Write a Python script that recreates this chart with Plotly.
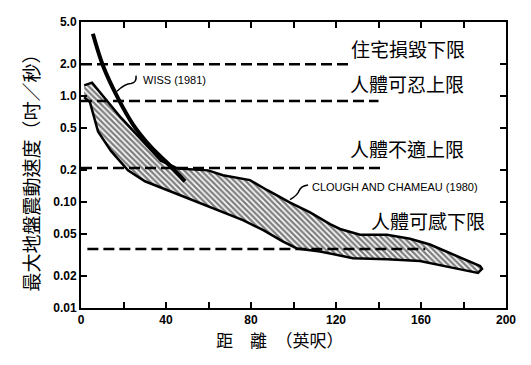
import plotly.graph_objects as go

# ---- data ----
band_upper_x = [1.5, 5.2, 18.8, 30.1, 37.6, 45.6, 59.8, 66.8, 79.5, 87.5, 98.4, 107.8, 117.2, 121.9, 131.3, 144.0, 154.8, 164.2, 175.1, 187.8, 188.7]
band_upper_y = [1.26, 1.34, 0.625, 0.352, 0.246, 0.207, 0.199, 0.179, 0.161, 0.130, 0.0987, 0.0799, 0.0619, 0.0557, 0.0491, 0.0491, 0.0450, 0.0397, 0.0321, 0.0249, 0.0234]
band_lower_x = [1.5, 4.2, 8.0, 14.1, 22.1, 30.1, 39.5, 51.3, 66.8, 76.2, 85.6, 95.1, 101.6, 112.5, 128.0, 144.0, 159.5, 175.1, 186.8]
band_lower_y = [0.975, 0.877, 0.464, 0.304, 0.199, 0.157, 0.130, 0.105, 0.080, 0.0674, 0.0545, 0.0423, 0.0365, 0.0342, 0.0295, 0.0289, 0.0277, 0.0239, 0.0214]

wiss_x = [5.6, 10.4, 17.4, 24.5, 32.9, 40.9, 48.9]
wiss_y = [3.87, 1.92, 0.955, 0.538, 0.331, 0.231, 0.157]

limit_levels = [2.0, 0.9, 0.21, 0.036]
limit_x_start = [0, 0, 0, 3]
limit_x_end = [126, 140, 141, 162]
limit_labels = ["住宅損毀下限", "人體可忍上限", "人體不適上限", "人體可感下限"]

x_ticks = [0, 20, 40, 60, 80, 100, 120, 140, 160, 180, 200]
x_ticktext = ["0", "", "40", "", "80", "", "120", "", "160", "", "200"]
y_ticks = [0.01, 0.02, 0.05, 0.1, 0.2, 0.5, 1.0, 2.0, 5.0]
y_ticktext = ["0.01", "0.02", "0.05", "0.10", "0.2", "0.5", "1.0", "2.0", "5.0"]

# ---- layout helpers (window pixel -> paper); page body has an 8px margin ----
OFF = 8
W, H = 531 - OFF, 365 - OFF
L, R, T, B = 81, 506, 15, 308  # plot area in window pixels
def px(x):
    return (x - L) / (R - L)
def py(y):
    return (B - y) / (B - T)

fig = go.Figure()

# hatched band (Clough and Chameau)
fig.add_trace(go.Scatter(
    x=band_upper_x + band_lower_x[::-1],
    y=band_upper_y + band_lower_y[::-1],
    mode="lines", fill="toself",
    line=dict(color="black", width=2.5),
    fillcolor="white",
    fillpattern=dict(shape="\\", fgcolor="black", bgcolor="white", size=4, solidity=0.6),
    showlegend=False, hoverinfo="skip"))

# dashed limit lines
for lv, xs, xe in zip(limit_levels, limit_x_start, limit_x_end):
    fig.add_trace(go.Scatter(
        x=[xs, xe], y=[lv, lv], mode="lines",
        line=dict(color="black", width=2.5, dash="11px,5px"),
        showlegend=False, hoverinfo="skip"))

# Wiss line
fig.add_trace(go.Scatter(
    x=wiss_x, y=wiss_y, mode="lines",
    line=dict(color="black", width=4, shape="spline"),
    showlegend=False, hoverinfo="skip"))

ann = []
label_pos = [(408, 42), (407, 78), (407, 145), (428, 218)]
for txt, (lx, ly) in zip(limit_labels, label_pos):
    ann.append(dict(x=px(lx), y=py(ly), xref="paper", yref="paper", text=txt,
                    showarrow=False, xanchor="center", yanchor="middle",
                    font=dict(family="Noto Sans CJK TC", size=19, color="black")))
ann.append(dict(x=px(141), y=py(74), xref="paper", yref="paper", text="WISS (1981)",
                showarrow=False, xanchor="left", yanchor="middle",
                font=dict(family="Liberation Sans", size=11, color="black")))
ann.append(dict(x=px(310), y=py(184), xref="paper", yref="paper", text="CLOUGH AND CHAMEAU (1980)",
                showarrow=False, xanchor="left", yanchor="middle",
                font=dict(family="Liberation Sans", size=11, color="black")))
# axis titles
ann.append(dict(x=px(30), y=py(165), xref="paper", yref="paper", text="最大地盤震動速度（吋／秒）",
                showarrow=False, textangle=-90, xanchor="center", yanchor="middle",
                font=dict(family="Noto Sans CJK TC", size=19, color="black")))
ann.append(dict(x=px(280), y=py(340), xref="paper", yref="paper", text="距　離　（英呎）",
                showarrow=False, xanchor="center", yanchor="middle",
                font=dict(family="Noto Sans CJK TC", size=17, color="black")))
fig.update_layout(annotations=ann)

# leader squiggles
def pth(points):
    (x0, y0), (cx, cy), (x1, y1), (cx2, cy2), (x2, y2) = points
    return (f"M {px(x0)},{py(y0)} Q {px(cx)},{py(cy)} {px(x1)},{py(y1)} "
            f"Q {px(cx2)},{py(cy2)} {px(x2)},{py(y2)}")
shapes = [
    dict(type="path", xref="paper", yref="paper",
         path=pth([(117, 86), (125, 78), (131, 78), (137, 77), (136, 70)]),
         line=dict(color="black", width=1.5)),
    dict(type="path", xref="paper", yref="paper",
         path=pth([(290, 197), (298, 192), (299, 188), (301, 183), (308, 182)]),
         line=dict(color="black", width=1.5)),
]
fig.update_layout(shapes=shapes)

fig.update_xaxes(range=[0, 200], tickvals=x_ticks, ticktext=x_ticktext,
                 ticks="inside", ticklen=6, tickwidth=1.5, tickcolor="black",
                 showline=True, linecolor="black", linewidth=2, mirror="ticks",
                 showgrid=False, zeroline=False,
                 tickfont=dict(family="Liberation Sans", size=12, color="black", weight="bold"))
fig.update_yaxes(type="log", range=[-2, 0.69897], tickvals=y_ticks, ticktext=y_ticktext,
                 ticks="inside", ticklen=6, tickwidth=1.5, tickcolor="black",
                 showline=True, linecolor="black", linewidth=2, mirror="ticks",
                 showgrid=False, zeroline=False,
                 tickfont=dict(family="Liberation Sans", size=12, color="black", weight="bold"))

fig.update_layout(width=W, height=H,
                  margin=dict(l=L - OFF, r=W - (R - OFF), t=T - OFF, b=H - (B - OFF)),
                  paper_bgcolor="white", plot_bgcolor="white",
                  showlegend=False)

fig.write_html("out.html")
